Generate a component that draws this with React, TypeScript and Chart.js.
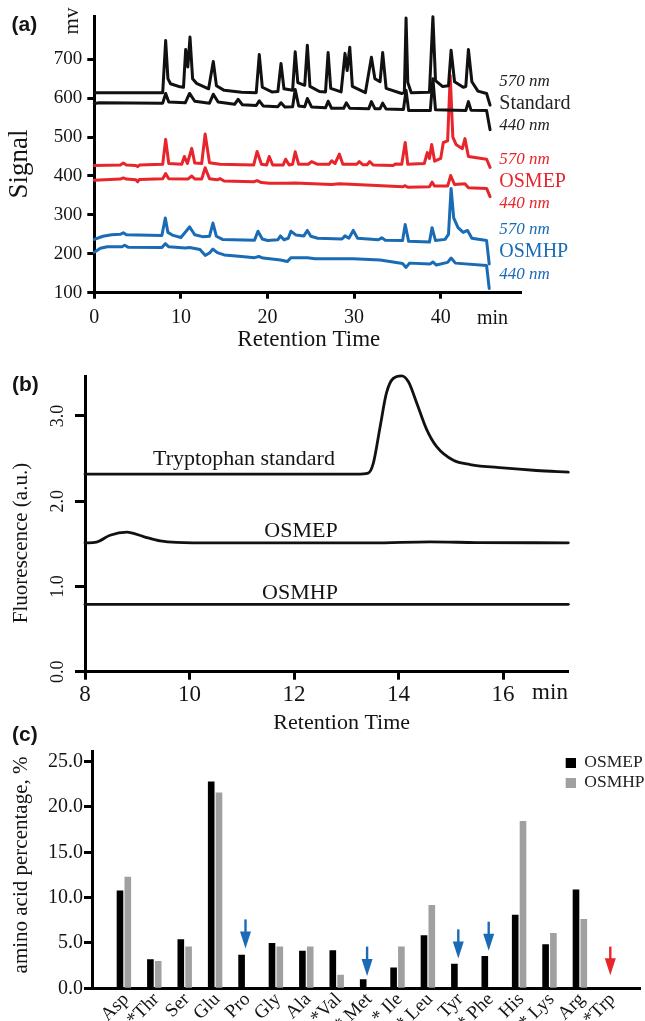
import React, { useEffect, useRef } from "react";
import { Chart, registerables } from "chart.js";

Chart.register(...registerables);

const SERIF = "'Liberation Serif', 'Times New Roman', serif";
const SANS = "'Liberation Sans', Arial, sans-serif";
const BLACK = "#111111";
const RED = "#e8252b";
const BLUE = "#1a6bb5";
const GREY = "#a0a0a0";
const W = 645;

// ---------- Panel (a): amino acid chromatograms ----------
const A_X_TICKS = [0, 10, 20, 30, 40];
const A_Y_TICKS = [100, 200, 300, 400, 500, 600, 700];

const STD_570: [number, number][] = [
  [0, 614], [7.9, 614], [8.24, 748], [8.5, 650], [8.8, 637], [9.9, 629], [10.3, 628], [10.55, 725], [10.8, 680],
  [11.05, 757], [11.35, 650], [11.8, 638], [13.2, 624], [13.74, 694], [14.1, 632], [15, 620], [17, 615], [18.7, 614],
  [19.05, 712], [19.4, 628], [20.5, 616], [21.2, 617], [21.56, 689], [21.9, 624], [22.9, 620], [23.2, 719], [23.5, 640],
  [24.3, 633], [24.6, 736], [24.9, 630], [26, 617], [26.7, 616], [27.0, 717], [27.3, 625], [28.5, 616], [28.95, 715],
  [29.2, 671], [29.5, 731], [29.8, 630], [31.3, 614], [32.0, 705], [32.4, 650], [33.0, 642], [33.3, 717], [33.7, 625],
  [35.5, 612], [35.8, 614], [36.0, 806], [36.2, 640], [36.6, 614], [38.7, 615], [39.1, 809], [39.4, 645], [40.2, 630],
  [40.9, 632], [41.2, 723], [41.6, 642], [42.6, 628], [42.9, 630], [43.2, 725], [43.6, 642], [44.3, 618], [45.3, 612],
  [45.7, 582],
];
const STD_440: [number, number][] = [
  [0, 586], [0.6, 588], [7.9, 587], [8.24, 612], [8.6, 590], [10.5, 588], [11.0, 612], [11.6, 592], [13.3, 587],
  [13.74, 610], [14.3, 590], [16.2, 584], [16.6, 597], [17.1, 583], [18.7, 581], [19.05, 593], [19.5, 580], [21.2, 578],
  [21.56, 588], [22, 577], [22.9, 578], [23.2, 622], [23.6, 580], [24.3, 578], [24.6, 599], [25.1, 577], [26.7, 575],
  [27.0, 592], [27.4, 574], [28.8, 574], [29.1, 588], [29.5, 574], [31.7, 573], [32.0, 591], [32.4, 573], [33.0, 573],
  [33.3, 587], [33.7, 572], [35.7, 571], [36.0, 620], [36.3, 568], [38.8, 568], [39.1, 650], [39.4, 570], [42.9, 568],
  [43.2, 591], [43.5, 569], [45.3, 568], [45.7, 519],
];
const MEP_570: [number, number][] = [
  [0, 427], [3.0, 428], [3.35, 433], [3.7, 428], [4.8, 427], [5.0, 424], [5.2, 428], [7.9, 430], [8.24, 494],
  [8.6, 432], [10.1, 430], [10.4, 450], [10.75, 432], [11.25, 471], [11.6, 433], [12.4, 432], [12.8, 508], [13.3, 434],
  [14.5, 430], [18.4, 428], [18.8, 463], [19.3, 430], [19.9, 428], [20.2, 450], [20.6, 428], [21.8, 428], [22.1, 443],
  [22.5, 428], [22.9, 430], [23.2, 462], [23.6, 430], [24.7, 430], [25.1, 437], [25.8, 430], [27.1, 430], [27.4, 439],
  [27.8, 432], [28.3, 456], [28.7, 430], [30.3, 430], [30.6, 437], [31.0, 429], [31.5, 429], [31.8, 437], [32.2, 428],
  [34.5, 427], [34.8, 431], [35.5, 430], [35.9, 486], [36.2, 430], [38.1, 432], [38.45, 460], [38.7, 445], [38.96, 481],
  [39.3, 438], [40.0, 445], [40.3, 486], [40.8, 490], [41.1, 658], [41.4, 500], [41.8, 480], [42.5, 470], [42.8, 496],
  [43.2, 450], [45.3, 443], [45.7, 422],
];
const MEP_440: [number, number][] = [
  [0, 389], [3.0, 392], [3.35, 395], [3.7, 392], [4.8, 390], [5.0, 385], [5.2, 391], [7.9, 393], [8.24, 406],
  [8.6, 393], [10.8, 392], [11.25, 400], [11.6, 392], [12.4, 392], [12.8, 421], [13.3, 393], [14.2, 390], [14.5, 393],
  [15, 387], [18.4, 385], [18.8, 388], [19.3, 383], [20.2, 381], [22.1, 381], [23.2, 382], [27.4, 378], [28.3, 380],
  [32, 376], [35.6, 372], [35.9, 375], [36.2, 371], [38.7, 372], [39.0, 384], [39.3, 374], [40.8, 374], [41.15, 401],
  [41.6, 378], [42.8, 380], [43.2, 370], [45.3, 368], [45.7, 347],
];
const MHP_570: [number, number][] = [
  [0, 237], [1.0, 245], [2.0, 249], [3.0, 250], [3.35, 254], [3.7, 249], [7.8, 247], [8.2, 292], [8.5, 255], [9.0, 248],
  [10.0, 242], [11.0, 269], [11.6, 249], [12.5, 244], [13.3, 245], [13.7, 279], [14.1, 245], [14.8, 237], [18.5, 235],
  [18.9, 258], [19.4, 238], [20.0, 234], [21.2, 236], [21.5, 246], [21.9, 236], [22.4, 240], [22.7, 258], [23.3, 248],
  [24.2, 246], [24.6, 260], [25.0, 245], [25.8, 240], [28.6, 238], [28.95, 246], [29.4, 240], [29.9, 260], [30.4, 240],
  [32.8, 236], [33.2, 241], [33.6, 235], [35.6, 234], [35.9, 275], [36.3, 232], [38.7, 230], [39.0, 267], [39.4, 234],
  [40.5, 237], [40.9, 250], [41.2, 368], [41.5, 292], [42.0, 267], [42.6, 255], [43.1, 260], [43.6, 240], [45.3, 234],
  [45.6, 174],
];
const MHP_440: [number, number][] = [
  [0, 204], [0.7, 214], [1.5, 218], [3.2, 218], [3.5, 222], [3.9, 217], [7.8, 216], [8.2, 226], [8.6, 218], [10.5, 215],
  [11.0, 216], [12.2, 211], [12.8, 196], [13.3, 202], [13.7, 212], [14.2, 203], [15.0, 197], [17.0, 193], [18.5, 190],
  [19.0, 193], [19.5, 189], [21.5, 184], [22.3, 180], [22.7, 190], [24.6, 190], [25.5, 187], [29.9, 187], [33.0, 184],
  [35.6, 175], [36.0, 165], [36.4, 176], [38.8, 174], [39.1, 179], [39.5, 171], [40.8, 178], [41.2, 189], [41.7, 176],
  [45.3, 170], [45.6, 111],
];

// ---------- Panel (b): tryptophan fluorescence ----------
const B_X_TICKS = [8, 10, 12, 14, 16];
const B_Y_TICKS = [0, 1, 2, 3];
const TRP_STD: [number, number][] = [
  [8, 2.317], [13.2, 2.317], [13.42, 2.33], [13.52, 2.45], [13.65, 2.88], [13.77, 3.27], [13.9, 3.44], [14.06, 3.47],
  [14.19, 3.4], [14.35, 3.15], [14.54, 2.84], [14.73, 2.64], [15.05, 2.48], [15.37, 2.43], [16.0, 2.39], [16.64, 2.36],
  [17.25, 2.34],
];
const TRP_MEP: [number, number][] = [
  [8, 1.51], [8.22, 1.52], [8.48, 1.6], [8.8, 1.636], [9.12, 1.585], [9.44, 1.534], [9.75, 1.516], [10.5, 1.51],
  [13.5, 1.51], [14.6, 1.522], [15.5, 1.515], [17.25, 1.512],
];
const TRP_MHP: [number, number][] = [[8, 0.79], [17.25, 0.79]];

// ---------- Panel (c): amino acid composition ----------
const AA_NAMES = ["Asp", "*Thr", "Ser", "Glu", "Pro", "Gly", "Ala", "*Val", "* Met", "* Ile", "* Leu", "Tyr", "* Phe", "His", "* Lys", "Arg", "*Trp"];
const OSMEP_PCT = [10.8, 3.2, 5.4, 22.8, 3.7, 5.0, 4.15, 4.2, 1.0, 2.3, 5.85, 2.7, 3.55, 8.1, 4.85, 10.9, null];
const OSMHP_PCT = [12.3, 3.0, 4.6, 21.6, null, 4.6, 4.6, 1.5, null, 4.6, 9.2, null, null, 18.45, 6.1, 7.65, null];
const C_Y_TICKS = [0, 5, 10, 15, 20, 25];
const ARROW_IDX = [4, 8, 11, 12, 16];
const ARROW_TOP = [7.6, 4.6, 6.5, 7.35, 4.6];
const ARROW_TIP = [4.4, 1.35, 3.3, 4.15, 1.45];
const ARROW_COLOR = [BLUE, BLUE, BLUE, BLUE, RED];

type TextItem = {
  text: string; x: number; y: number; size: number; color?: string;
  rotate?: boolean; italic?: boolean; bold?: boolean; sans?: boolean; align?: CanvasTextAlign;
};

const textPlugin = (items: TextItem[]) => ({
  id: "texts",
  afterDraw(chart: any) {
    const ctx = chart.ctx as CanvasRenderingContext2D;
    items.forEach((it) => {
      ctx.save();
      ctx.font = `${it.italic ? "italic " : ""}${it.bold ? "bold " : ""}${it.size}px ${it.sans ? SANS : SERIF}`;
      ctx.fillStyle = it.color || "#141414";
      ctx.textAlign = it.align || "center";
      ctx.textBaseline = "middle";
      ctx.translate(it.x, it.y);
      if (it.rotate) ctx.rotate(-Math.PI / 2);
      ctx.fillText(it.text, 0, 0);
      ctx.restore();
    });
  },
});

const A_TEXTS: TextItem[] = [
  { text: "(a)", x: 11.5, y: 25.5, size: 21, bold: true, sans: true, align: "left" },
  { text: "mv", x: 72, y: 21, size: 21, rotate: true },
  { text: "Signal", x: 20, y: 164, size: 27, rotate: true },
  { text: "min", x: 492.5, y: 318.3, size: 20 },
  { text: "Retention Time", x: 308.8, y: 340, size: 23 },
  { text: "570 nm", x: 499.3, y: 81.7, size: 17, italic: true, align: "left", color: "#222" },
  { text: "Standard", x: 499.3, y: 103.3, size: 20, align: "left", color: "#222" },
  { text: "440 nm", x: 499.3, y: 126, size: 17, italic: true, align: "left", color: "#222" },
  { text: "570 nm", x: 499.3, y: 160, size: 17, italic: true, align: "left", color: RED },
  { text: "OSMEP", x: 499.3, y: 181.7, size: 20, align: "left", color: RED },
  { text: "440 nm", x: 499.3, y: 203.3, size: 17, italic: true, align: "left", color: RED },
  { text: "570 nm", x: 499.3, y: 230, size: 17, italic: true, align: "left", color: BLUE },
  { text: "OSMHP", x: 499.3, y: 251.7, size: 20, align: "left", color: BLUE },
  { text: "440 nm", x: 499.3, y: 275, size: 17, italic: true, align: "left", color: BLUE },
];

const B_TEXTS: TextItem[] = [
  { text: "(b)", x: 12, y: 35, size: 21, bold: true, sans: true, align: "left" },
  { text: "Fluorescence (a.u.)", x: 21.7, y: 193, size: 21, rotate: true },
  { text: "Tryptophan standard", x: 244, y: 109.3, size: 22 },
  { text: "OSMEP", x: 301, y: 181.7, size: 22 },
  { text: "OSMHP", x: 300, y: 243.3, size: 22 },
  { text: "min", x: 550, y: 343.3, size: 23 },
  { text: "Retention Time", x: 341.7, y: 373, size: 22 },
];

const C_TEXTS: TextItem[] = [
  { text: "(c)", x: 12, y: 15, size: 21, bold: true, sans: true, align: "left" },
  { text: "amino acid percentage, %", x: 21.7, y: 145, size: 21, rotate: true },
  { text: "OSMEP", x: 584.3, y: 42.7, size: 17.5, align: "left", color: "#222" },
  { text: "OSMHP", x: 584.3, y: 62.7, size: 17.5, align: "left", color: "#222" },
];

const legendBoxes = {
  id: "legendBoxes",
  afterDraw(chart: any) {
    const ctx = chart.ctx as CanvasRenderingContext2D;
    ctx.save();
    ctx.fillStyle = "#000";
    ctx.fillRect(565.7, 38, 10.3, 10);
    ctx.fillStyle = GREY;
    ctx.fillRect(565.7, 58, 10.3, 10);
    ctx.restore();
  },
};

// category names under the bars, rotated 45 degrees
const aaLabelPlugin = {
  id: "aaLabels",
  afterDraw(chart: any) {
    const ctx = chart.ctx as CanvasRenderingContext2D;
    const xs = chart.scales.x;
    const y = chart.chartArea.bottom + 8.2;
    ctx.save();
    ctx.font = `19px ${SERIF}`;
    ctx.fillStyle = "#141414";
    ctx.textAlign = "right";
    ctx.textBaseline = "middle";
    AA_NAMES.forEach((name, i) => {
      const x = xs.getPixelForValue(i) + 2;
      ctx.save();
      ctx.translate(x, y);
      ctx.rotate(-Math.PI / 4);
      ctx.fillText(name, 0, 0);
      ctx.restore();
    });
    ctx.restore();
  },
};

const arrowPlugin = {
  id: "arrows",
  afterDatasetsDraw(chart: any) {
    const ctx = chart.ctx as CanvasRenderingContext2D;
    const xs = chart.scales.x;
    const ys = chart.scales.y;
    ARROW_IDX.forEach((idx, i) => {
      const x = xs.getPixelForValue(idx);
      const y0 = ys.getPixelForValue(ARROW_TOP[i]);
      const y1 = ys.getPixelForValue(ARROW_TIP[i]);
      const head = 17;
      ctx.save();
      ctx.strokeStyle = ARROW_COLOR[i];
      ctx.fillStyle = ARROW_COLOR[i];
      ctx.lineWidth = 2.4;
      ctx.beginPath();
      ctx.moveTo(x, y0);
      ctx.lineTo(x, y1 - head + 2);
      ctx.stroke();
      ctx.beginPath();
      ctx.moveTo(x - 5.5, y1 - head);
      ctx.lineTo(x + 5.5, y1 - head);
      ctx.lineTo(x, y1);
      ctx.closePath();
      ctx.fill();
      ctx.restore();
    });
  },
};

const axisStyle = (tickLength: number, drawTicks = true) => ({
  grid: { display: true, drawOnChartArea: false, drawTicks, tickLength, tickWidth: 3, tickColor: "#000", color: "#000" },
  border: { display: true, width: 3, color: "#000" },
});

const toXY = (arr: [number, number][]) => arr.map(([x, y]) => ({ x, y }));
const lineDs = (arr: [number, number][], color: string, width: number, smooth: boolean) => ({
  data: toXY(arr),
  borderColor: color,
  borderWidth: width,
  pointRadius: 0,
  tension: smooth ? 0.4 : 0,
  cubicInterpolationMode: smooth ? "monotone" : "default",
  borderJoinStyle: "round",
  borderCapStyle: "round",
  clip: false,
});

function makeA(canvas: HTMLCanvasElement) {
  const H = 350;
  const left = 94.3, right = 521.7, top = 12, bottom = 292.7;
  const xMax = (right - left) / 8.66;
  return new Chart(canvas, {
    type: "line",
    data: {
      datasets: [
        lineDs(STD_570, BLACK, 3, false),
        lineDs(STD_440, BLACK, 3, false),
        lineDs(MEP_570, RED, 3, false),
        lineDs(MEP_440, RED, 3, false),
        lineDs(MHP_570, BLUE, 3, false),
        lineDs(MHP_440, BLUE, 3, false),
      ] as any,
    },
    options: {
      responsive: false,
      animation: false,
      devicePixelRatio: 1,
      layout: { padding: { top, right: W - right, left: 0, bottom: 0 } },
      plugins: { legend: { display: false }, tooltip: { enabled: false } },
      scales: {
        x: {
          type: "linear", min: 0, max: xMax,
          afterBuildTicks: (s: any) => { s.ticks = A_X_TICKS.map((v) => ({ value: v })); },
          afterFit: (s: any) => { s.height = H - bottom; },
          ...axisStyle(6),
          ticks: { font: { family: SERIF, size: 20 }, color: "#141414", padding: 7, maxRotation: 0, autoSkip: false },
        },
        y: {
          type: "linear", min: 100, max: 810,
          afterBuildTicks: (s: any) => { s.ticks = A_Y_TICKS.map((v) => ({ value: v })); },
          afterFit: (s: any) => { s.width = left; },
          ...axisStyle(7),
          ticks: { font: { family: SERIF, size: 19 }, color: "#141414", padding: 5 },
        },
      },
    } as any,
    plugins: [textPlugin(A_TEXTS)],
  });
}

function makeB(canvas: HTMLCanvasElement) {
  const H = 385;
  const left = 85, right = 568.3, top = 26.7, bottom = 321.7;
  const xMax = 8 + (right - left) / 52.25;
  return new Chart(canvas, {
    type: "line",
    data: {
      datasets: [
        lineDs(TRP_STD, BLACK, 2.8, true),
        lineDs(TRP_MEP, BLACK, 2.8, true),
        lineDs(TRP_MHP, BLACK, 2.8, true),
      ] as any,
    },
    options: {
      responsive: false,
      animation: false,
      devicePixelRatio: 1,
      layout: { padding: { top, right: W - right, left: 0, bottom: 0 } },
      plugins: { legend: { display: false }, tooltip: { enabled: false } },
      scales: {
        x: {
          type: "linear", min: 8, max: xMax,
          afterBuildTicks: (s: any) => { s.ticks = B_X_TICKS.map((v) => ({ value: v })); },
          afterFit: (s: any) => { s.height = H - bottom; },
          ...axisStyle(8),
          ticks: { font: { family: SERIF, size: 23 }, color: "#141414", padding: 1, maxRotation: 0, autoSkip: false },
        },
        y: {
          type: "linear", min: 0, max: 3.46,
          afterBuildTicks: (s: any) => { s.ticks = B_Y_TICKS.map((v) => ({ value: v })); },
          afterFit: (s: any) => { s.width = left; },
          ...axisStyle(10),
          ticks: {
            font: { family: SERIF, size: 18 }, color: "#141414", padding: 5,
            minRotation: 90, maxRotation: 90, crossAlign: "center",
            callback: (v: number) => v.toFixed(1),
          },
        },
      },
    } as any,
    plugins: [textPlugin(B_TEXTS)],
  });
}

function makeC(canvas: HTMLCanvasElement) {
  const H = 301;
  const left = 92, right = 640, top = 31.7, bottom = 268.3;
  const pitch = 30.4;
  const firstCenter = 123.9;
  const xMin = (left - firstCenter) / pitch;
  const xMax = (right - firstCenter) / pitch;
  return new Chart(canvas, {
    type: "bar",
    data: {
      datasets: [
        { label: "OSMEP", data: OSMEP_PCT.map((v, i) => ({ x: i, y: v })), backgroundColor: "#000000", categoryPercentage: 0.513, barPercentage: 0.85 },
        { label: "OSMHP", data: OSMHP_PCT.map((v, i) => ({ x: i, y: v })), backgroundColor: GREY, categoryPercentage: 0.513, barPercentage: 0.85 },
      ] as any,
    },
    options: {
      responsive: false,
      animation: false,
      devicePixelRatio: 1,
      layout: { padding: { top, right: W - right, left: 0, bottom: 0 } },
      plugins: { legend: { display: false }, tooltip: { enabled: false } },
      scales: {
        x: {
          type: "linear", min: xMin, max: xMax, offset: false,
          afterBuildTicks: (s: any) => { s.ticks = AA_NAMES.map((_, i) => ({ value: i })); },
          afterFit: (s: any) => { s.height = H - bottom; },
          grid: { display: true, drawOnChartArea: false, drawTicks: false, tickLength: 0, offset: false },
          border: { display: true, width: 3, color: "#000" },
          ticks: { display: false, autoSkip: false },
        },
        y: {
          type: "linear", min: 0, max: 26.1,
          afterBuildTicks: (s: any) => { s.ticks = C_Y_TICKS.map((v) => ({ value: v })); },
          afterFit: (s: any) => { s.width = left; },
          ...axisStyle(8),
          ticks: { font: { family: SERIF, size: 20 }, color: "#141414", padding: 1, callback: (v: number) => v.toFixed(1) },
        },
      },
    } as any,
    plugins: [arrowPlugin, aaLabelPlugin, legendBoxes, textPlugin(C_TEXTS)],
  });
}

function Panel({ make, top, height }: { make: (c: HTMLCanvasElement) => Chart; top: number; height: number }) {
  const ref = useRef<HTMLCanvasElement>(null);
  useEffect(() => {
    const chart = make(ref.current as HTMLCanvasElement);
    return () => chart.destroy();
  }, []);
  return (
    <canvas
      ref={ref}
      width={W}
      height={height}
      style={{ position: "absolute", left: 0, top, width: W, height, display: "block" }}
    />
  );
}

export default function App() {
  return (
    <div style={{ position: "absolute", left: 0, top: 0, width: W, height: 1021, background: "#fff", overflow: "hidden" }}>
      <Panel make={makeA} top={0} height={350} />
      <Panel make={makeB} top={350} height={385} />
      <Panel make={makeC} top={720} height={301} />
    </div>
  );
}
